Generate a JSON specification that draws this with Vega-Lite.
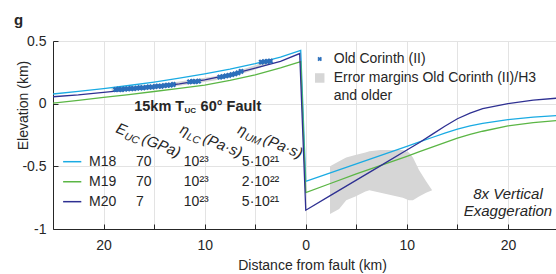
{
  "$schema": "https://vega.github.io/schema/vega-lite/v6.json",
  "width": 503,
  "height": 188,
  "autosize": "none",
  "padding": {"left": 53, "top": 41, "right": 0, "bottom": 45},
  "background": "white",
  "config": {
    "font": "Liberation Sans",
    "view": {"stroke": null},
    "axis": {
      "domainColor": "#262626",
      "tickColor": "#262626",
      "labelColor": "#262626",
      "titleColor": "#262626",
      "labelFontSize": 14,
      "titleFontSize": 14,
      "titleFontWeight": "normal",
      "gridColor": "#e3e3e3",
      "gridWidth": 1,
      "tickSize": -5
    }
  },
  "title": {"text": "g", "anchor": "start", "frame": "group", "fontSize": 15, "fontWeight": "bold", "color": "#262626", "dx": -39, "offset": 0, "baseline": "alphabetic", "dy": 6},
  "datasets": {
    "lines": [
      {"model": "M18", "x": -25, "y": 0.077}, {"model": "M18", "x": -22.5, "y": 0.098}, {"model": "M18", "x": -20, "y": 0.12}, {"model": "M18", "x": -17.5, "y": 0.145}, {"model": "M18", "x": -15, "y": 0.172}, {"model": "M18", "x": -12.5, "y": 0.203}, {"model": "M18", "x": -10, "y": 0.238}, {"model": "M18", "x": -7.5, "y": 0.276}, {"model": "M18", "x": -5, "y": 0.32}, {"model": "M18", "x": -2.5, "y": 0.372}, {"model": "M18", "x": -0.5, "y": 0.425},
      {"model": "M18", "x": 0, "y": -0.62}, {"model": "M18", "x": 2.5, "y": -0.55}, {"model": "M18", "x": 5, "y": -0.48}, {"model": "M18", "x": 7.5, "y": -0.41}, {"model": "M18", "x": 10, "y": -0.34}, {"model": "M18", "x": 11.25, "y": -0.305}, {"model": "M18", "x": 12.5, "y": -0.27}, {"model": "M18", "x": 13.75, "y": -0.235}, {"model": "M18", "x": 15, "y": -0.203}, {"model": "M18", "x": 16.25, "y": -0.178}, {"model": "M18", "x": 17.5, "y": -0.158}, {"model": "M18", "x": 20, "y": -0.128}, {"model": "M18", "x": 22.5, "y": -0.108}, {"model": "M18", "x": 25, "y": -0.094},
      {"model": "M19", "x": -25, "y": 0.005}, {"model": "M19", "x": -22.5, "y": 0.027}, {"model": "M19", "x": -20, "y": 0.05}, {"model": "M19", "x": -17.5, "y": 0.072}, {"model": "M19", "x": -15, "y": 0.097}, {"model": "M19", "x": -12.5, "y": 0.122}, {"model": "M19", "x": -10, "y": 0.148}, {"model": "M19", "x": -7.5, "y": 0.185}, {"model": "M19", "x": -5, "y": 0.23}, {"model": "M19", "x": -2.5, "y": 0.285}, {"model": "M19", "x": -0.5, "y": 0.335},
      {"model": "M19", "x": 0, "y": -0.71}, {"model": "M19", "x": 2.5, "y": -0.635}, {"model": "M19", "x": 5, "y": -0.56}, {"model": "M19", "x": 7.5, "y": -0.49}, {"model": "M19", "x": 10, "y": -0.42}, {"model": "M19", "x": 11.25, "y": -0.383}, {"model": "M19", "x": 12.5, "y": -0.347}, {"model": "M19", "x": 13.75, "y": -0.31}, {"model": "M19", "x": 15, "y": -0.275}, {"model": "M19", "x": 16.25, "y": -0.245}, {"model": "M19", "x": 17.5, "y": -0.22}, {"model": "M19", "x": 20, "y": -0.178}, {"model": "M19", "x": 22.5, "y": -0.152}, {"model": "M19", "x": 25, "y": -0.134},
      {"model": "M20", "x": -25, "y": 0.055}, {"model": "M20", "x": -22.5, "y": 0.07}, {"model": "M20", "x": -20, "y": 0.09}, {"model": "M20", "x": -17.5, "y": 0.11}, {"model": "M20", "x": -15, "y": 0.132}, {"model": "M20", "x": -12.5, "y": 0.158}, {"model": "M20", "x": -10, "y": 0.19}, {"model": "M20", "x": -7.5, "y": 0.232}, {"model": "M20", "x": -5, "y": 0.283}, {"model": "M20", "x": -2.5, "y": 0.338}, {"model": "M20", "x": -0.6, "y": 0.40},
      {"model": "M20", "x": 0, "y": -0.85}, {"model": "M20", "x": 2.5, "y": -0.73}, {"model": "M20", "x": 5, "y": -0.61}, {"model": "M20", "x": 7.5, "y": -0.49}, {"model": "M20", "x": 10, "y": -0.37}, {"model": "M20", "x": 11.25, "y": -0.31}, {"model": "M20", "x": 12.5, "y": -0.245}, {"model": "M20", "x": 13.75, "y": -0.18}, {"model": "M20", "x": 15, "y": -0.12}, {"model": "M20", "x": 16.25, "y": -0.075}, {"model": "M20", "x": 17.5, "y": -0.04}, {"model": "M20", "x": 20, "y": 0.0}, {"model": "M20", "x": 22.5, "y": 0.028}, {"model": "M20", "x": 25, "y": 0.045}
    ],
    "errpoly": [
      {"x": 2.4, "lo": -0.88, "hi": -0.5}, {"x": 3.3, "lo": -0.84, "hi": -0.46}, {"x": 4.0, "lo": -0.77, "hi": -0.43}, {"x": 4.9, "lo": -0.74, "hi": -0.41}, {"x": 5.9, "lo": -0.7, "hi": -0.39}, {"x": 6.3, "lo": -0.69, "hi": -0.38}, {"x": 7.4, "lo": -0.71, "hi": -0.37}, {"x": 8.5, "lo": -0.73, "hi": -0.37}, {"x": 9.6, "lo": -0.75, "hi": -0.37}, {"x": 10.2, "lo": -0.77, "hi": -0.39}, {"x": 10.6, "lo": -0.77, "hi": -0.43}, {"x": 11.2, "lo": -0.74, "hi": -0.53}, {"x": 11.9, "lo": -0.71, "hi": -0.62}, {"x": 12.5, "lo": -0.69, "hi": -0.69}
    ],
    "errband": [
      {"x": -19.2, "lo": 0.094, "hi": 0.128}, {"x": -17, "lo": 0.106, "hi": 0.14}, {"x": -15, "lo": 0.118, "hi": 0.152}, {"x": -13, "lo": 0.136, "hi": 0.17}, {"x": -11, "lo": 0.16, "hi": 0.194}, {"x": -9, "lo": 0.184, "hi": 0.218}, {"x": -7, "lo": 0.22, "hi": 0.254}, {"x": -5, "lo": 0.272, "hi": 0.306}, {"x": -3.3, "lo": 0.322, "hi": 0.356}
    ],
    "obs": [
      {"x": -18.8, "y": 0.112}, {"x": -18.5, "y": 0.115}, {"x": -18.2, "y": 0.113}, {"x": -17.9, "y": 0.117}, {"x": -17.6, "y": 0.118}, {"x": -17.3, "y": 0.121}, {"x": -17.0, "y": 0.12}, {"x": -16.7, "y": 0.124}, {"x": -16.4, "y": 0.127}, {"x": -16.1, "y": 0.126}, {"x": -15.8, "y": 0.13}, {"x": -15.5, "y": 0.133}, {"x": -15.2, "y": 0.132}, {"x": -14.9, "y": 0.137}, {"x": -14.6, "y": 0.14}, {"x": -14.3, "y": 0.139}, {"x": -14.0, "y": 0.144}, {"x": -13.7, "y": 0.147}, {"x": -13.4, "y": 0.148}, {"x": -13.1, "y": 0.153},
      {"x": -11.5, "y": 0.174}, {"x": -11.2, "y": 0.177}, {"x": -10.9, "y": 0.176}, {"x": -10.6, "y": 0.179},
      {"x": -8.5, "y": 0.212}, {"x": -8.2, "y": 0.216}, {"x": -7.9, "y": 0.221}, {"x": -7.6, "y": 0.226}, {"x": -7.3, "y": 0.232}, {"x": -7.0, "y": 0.238}, {"x": -6.7, "y": 0.246}, {"x": -6.4, "y": 0.258},
      {"x": -4.4, "y": 0.332}, {"x": -4.1, "y": 0.335}, {"x": -3.8, "y": 0.337}, {"x": -3.5, "y": 0.34}
    ],
    "legrows": [
      {"model": "M18", "x1": -24.0, "x2": -22.2, "y": -0.463},
      {"model": "M19", "x1": -24.0, "x2": -22.2, "y": -0.623},
      {"model": "M20", "x1": -24.0, "x2": -22.2, "y": -0.782}
    ],
    "plain": [
      {"x": -21.44, "y": -0.463, "text": "M18"}, {"x": -16.8, "y": -0.463, "text": "70"}, {"x": -12.06, "y": -0.463, "text": "10²³"}, {"x": -6.32, "y": -0.463, "text": "5·10²¹"},
      {"x": -21.44, "y": -0.623, "text": "M19"}, {"x": -16.8, "y": -0.623, "text": "70"}, {"x": -12.06, "y": -0.623, "text": "10²³"}, {"x": -6.32, "y": -0.623, "text": "2·10²²"},
      {"x": -21.44, "y": -0.782, "text": "M20"}, {"x": -16.8, "y": -0.782, "text": "7"}, {"x": -12.06, "y": -0.782, "text": "10²³"}, {"x": -6.32, "y": -0.782, "text": "5·10²¹"},
      {"x": 2.77, "y": 0.356, "text": "Old Corinth (II)"},
      {"x": 2.77, "y": 0.205, "text": "Error margins Old Corinth (II)/H3"},
      {"x": 2.77, "y": 0.061, "text": "and older"}
    ],
    "headers": [
      {"x": -18.87, "y": -0.226, "text": "E", "size": 15},
      {"x": -18.02, "y": -0.2795, "text": "UC", "size": 10.5},
      {"x": -16.3, "y": -0.31, "text": "(GPa)", "size": 15},
      {"x": -12.55, "y": -0.234, "text": "η", "size": 15},
      {"x": -11.84, "y": -0.2835, "text": "LC", "size": 10.5},
      {"x": -10.27, "y": -0.308, "text": "(Pa·s)", "size": 15},
      {"x": -6.82, "y": -0.234, "text": "η", "size": 15},
      {"x": -6.11, "y": -0.2835, "text": "UM", "size": 10.5},
      {"x": -4.3, "y": -0.316, "text": "(Pa·s)", "size": 15}
    ],
    "boldtxt": [
      {"x": -16.97, "y": -0.056, "text": "15km T", "size": 14.5},
      {"x": -12.0, "y": -0.078, "text": "UC", "size": 8},
      {"x": -10.4, "y": -0.056, "text": "60° Fault", "size": 14.5}
    ],
    "italic": [
      {"x": 20, "y": -0.718, "text": "8x Vertical"},
      {"x": 20, "y": -0.86, "text": "Exaggeration"}
    ],
    "legsym": [
      {"x": 1.38, "y": 0.356}
    ],
    "legsq": [
      {"x": 1.38, "y": 0.205}
    ]
  },
  "layer": [
    {
      "data": {"name": "errpoly"},
      "mark": {"type": "area", "color": "#d6d6d6", "opacity": 1},
      "encoding": {
        "x": {"field": "x", "type": "quantitative", "scale": {"domain": [-25, 24.75], "nice": false, "zero": false},
          "axis": {"title": "Distance from fault (km)", "values": [-20, -15, -10, -5, 0, 5, 10, 15, 20], "labelExpr": "datum.value % 10 == 0 ? toString(abs(datum.value)) : ''", "labelPadding": 14, "titleX": 259, "titleY": 36, "titleBaseline": "middle", "titleAnchor": "middle", "titleAlign": "center"}},
        "y": {"field": "lo", "type": "quantitative", "scale": {"domain": [-1, 0.5], "nice": false, "zero": false},
          "axis": {"title": "Elevation (km)", "values": [-1, -0.5, 0, 0.5], "labelExpr": "toString(datum.value)", "labelPadding": 12, "titleX": -30, "titleY": 64, "titleBaseline": "middle", "titleAlign": "center", "titleAnchor": "middle"}},
        "y2": {"field": "hi"}
      }
    },
    {
      "data": {"name": "errband"},
      "mark": {"type": "area", "color": "#d6d6d6"},
      "encoding": {
        "x": {"field": "x", "type": "quantitative"},
        "y": {"field": "lo", "type": "quantitative"},
        "y2": {"field": "hi"}
      }
    },
    {
      "data": {"name": "lines"},
      "mark": {"type": "line", "strokeWidth": 1.3, "clip": true},
      "encoding": {
        "x": {"field": "x", "type": "quantitative"},
        "y": {"field": "y", "type": "quantitative"},
        "color": {"field": "model", "type": "nominal", "scale": {"domain": ["M18", "M19", "M20"], "range": ["#1aabe3", "#5bb645", "#2e3092"]}, "legend": null},
        "detail": {"field": "model"}
      }
    },
    {
      "data": {"name": "obs"},
      "transform": [{"calculate": "datum.y - 0.014", "as": "ylo"}, {"calculate": "datum.y + 0.014", "as": "yhi"}],
      "mark": {"type": "rule", "color": "#1f4f9f", "strokeWidth": 1},
      "encoding": {
        "x": {"field": "x", "type": "quantitative"},
        "y": {"field": "ylo", "type": "quantitative"},
        "y2": {"field": "yhi"}
      }
    },
    {
      "data": {"name": "obs"},
      "mark": {"type": "point", "shape": "cross", "angle": 45, "filled": true, "size": 34, "color": "#2c6fbb", "opacity": 1},
      "encoding": {
        "x": {"field": "x", "type": "quantitative"},
        "y": {"field": "y", "type": "quantitative"}
      }
    },
    {
      "data": {"name": "legsym"},
      "mark": {"type": "point", "shape": "cross", "angle": 45, "filled": true, "size": 22, "color": "#2c6fbb", "opacity": 1},
      "encoding": {
        "x": {"field": "x", "type": "quantitative"},
        "y": {"field": "y", "type": "quantitative"}
      }
    },
    {
      "data": {"name": "legsq"},
      "mark": {"type": "square", "size": 90, "color": "#d6d6d6", "opacity": 1},
      "encoding": {
        "x": {"field": "x", "type": "quantitative"},
        "y": {"field": "y", "type": "quantitative"}
      }
    },
    {
      "data": {"name": "legrows"},
      "mark": {"type": "rule", "strokeWidth": 1.5},
      "encoding": {
        "x": {"field": "x1", "type": "quantitative"},
        "x2": {"field": "x2"},
        "y": {"field": "y", "type": "quantitative"},
        "color": {"field": "model", "type": "nominal"}
      }
    },
    {
      "data": {"name": "plain"},
      "mark": {"type": "text", "align": "left", "baseline": "middle", "fontSize": 14, "color": "#262626"},
      "encoding": {
        "x": {"field": "x", "type": "quantitative"},
        "y": {"field": "y", "type": "quantitative"},
        "text": {"field": "text"}
      }
    },
    {
      "data": {"name": "headers"},
      "mark": {"type": "text", "align": "left", "baseline": "alphabetic", "fontStyle": "italic", "angle": 22, "color": "#262626"},
      "encoding": {
        "x": {"field": "x", "type": "quantitative"},
        "y": {"field": "y", "type": "quantitative"},
        "text": {"field": "text"},
        "size": {"field": "size", "type": "quantitative", "scale": null}
      }
    },
    {
      "data": {"name": "boldtxt"},
      "mark": {"type": "text", "align": "left", "baseline": "alphabetic", "fontWeight": "bold", "color": "#262626"},
      "encoding": {
        "x": {"field": "x", "type": "quantitative"},
        "y": {"field": "y", "type": "quantitative"},
        "text": {"field": "text"},
        "size": {"field": "size", "type": "quantitative", "scale": null}
      }
    },
    {
      "data": {"name": "italic"},
      "mark": {"type": "text", "align": "center", "baseline": "middle", "fontStyle": "italic", "fontSize": 15, "color": "#262626"},
      "encoding": {
        "x": {"field": "x", "type": "quantitative"},
        "y": {"field": "y", "type": "quantitative"},
        "text": {"field": "text"}
      }
    }
  ]
}
